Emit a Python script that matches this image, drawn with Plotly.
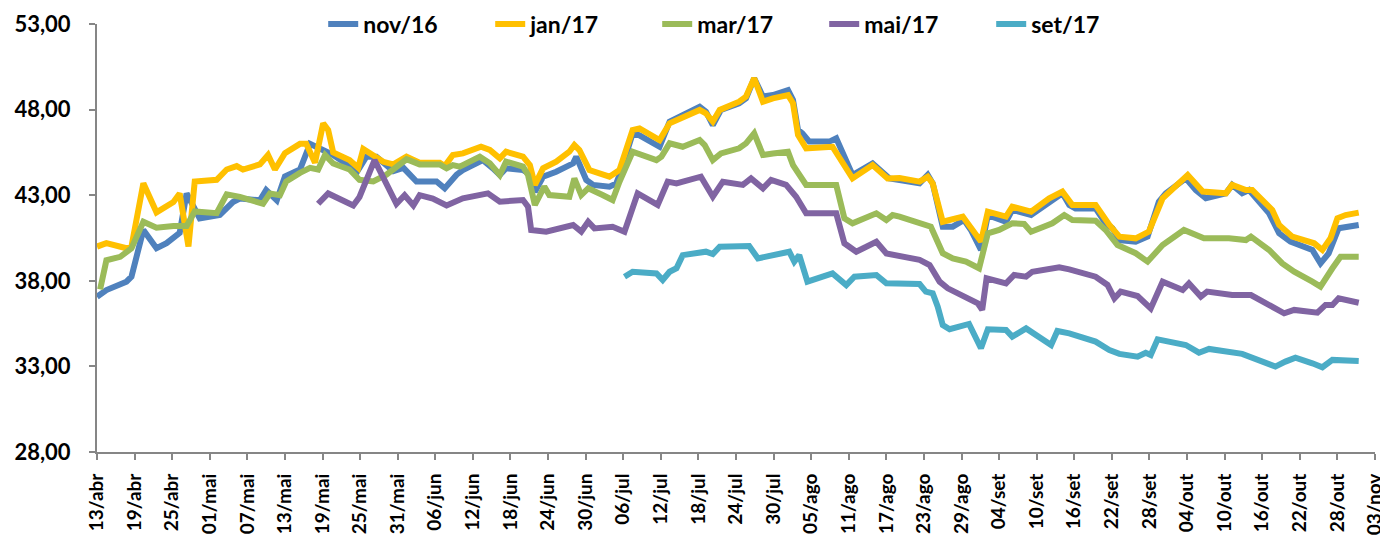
import plotly.graph_objects as go

# x values are days after 13/abr
nov16_day = [0, 1.5, 4.7, 5.5, 7.4, 9.5, 11.1, 13.2, 14.3, 16.4, 19.6, 21.7, 22.8, 26, 27, 28.7, 30, 32.4, 34, 35.3,
             37.7, 40.3, 41.4, 43, 44.6, 47.3, 48.9, 51, 54.2, 55.5, 57.4, 58.4, 61.6, 63.2, 64.3, 65.3, 68, 68.8, 69.9,
             71.2, 73.3, 76, 76.5, 78.1, 79.2, 81.8, 82.9, 83.7, 85.5, 86.6, 89.8, 91.4, 96.2, 97.2, 98.3, 99.6, 102.5,
             103.6, 104.9, 106.3, 107.9, 110.3, 111.1, 111.9, 112.6, 113.7, 116.9, 118, 120.6, 123.8, 126.5, 128.1,
             131.3, 132.6, 133.4, 135, 136.6, 138.4, 139.5, 141.1, 142.2, 145.1, 146.1, 149.1, 152, 154.1, 155.2,
             156.2, 159.4, 161, 162.1, 163.2, 165.8, 167.7, 169.5, 170.6, 173.8, 175.4, 177, 180.2, 181.2, 182.8,
             183.9, 187.1, 188.7, 190.5, 194, 195.3, 196.6, 198.2, 201.4]
nov16_val = [37.07, 37.46, 37.95, 38.24, 40.97, 39.9, 40.2, 40.8, 43.1, 41.65, 41.85, 42.6, 42.8, 42.7, 43.3, 42.7,
             44.1, 44.5, 46.0, 45.8, 45.35, 44.7, 44.3, 45.25, 45.25, 44.4, 44.6, 43.8, 43.8, 43.4, 44.2, 44.47, 45.05,
             44.57, 44.18, 44.57, 44.47, 44.28, 43.2, 44.08, 44.37, 44.86, 45.25, 43.89, 43.6, 43.5, 43.69, 44.47,
             46.61, 46.5, 45.83, 47.3, 48.17, 47.88, 47.1, 47.98, 48.37, 48.66, 49.83, 48.76, 48.85, 49.14, 48.56,
             46.81, 46.61, 46.13, 46.13, 46.32, 44.18, 44.86, 43.98, 43.89, 43.69, 44.18, 43.69, 41.16, 41.16, 41.55,
             40.97, 39.8, 41.84, 41.45, 42.14, 41.84, 42.62, 43.11, 42.43, 42.23, 42.23, 41.36, 41.07, 40.38, 40.29,
             40.58, 42.62, 43.11, 43.99, 43.3, 42.82, 43.11, 43.6, 43.11, 43.3, 41.94, 40.77, 40.29, 39.8, 39.02,
             39.6, 41.07, 41.26]

jan17_day = [0, 1.5, 4.7, 5.5, 7.4, 9.5, 12.2, 13.2, 14.6, 15.6, 19.1, 20.7, 22.3, 23.3, 26, 27.3, 28.4, 30, 32.4,
             33.4, 34.8, 36.1, 36.9, 37.7, 40.3, 41.7, 42.5, 43.5, 45.7, 47.3, 49.4, 51.5, 54.7, 55.5, 56.8, 58.4,
             61.3, 62.7, 64.3, 65.3, 68, 69.1, 69.9, 71.2, 73.3, 75.4, 76.2, 77, 78.6, 81.8, 83.4, 85.5, 86.6, 89.8,
             91.4, 96.2, 97.2, 98.3, 99.4, 102.5, 103.6, 104.9, 106.3, 107.9, 110.3, 111.1, 111.9, 113.2, 117.4,
             120.6, 123.8, 126.2, 128.1, 131.3, 132.6, 133.4, 135, 138.2, 139.2, 141.1, 142.2, 145.1, 146.1, 149.1,
             152, 154.1, 155.7, 159.4, 161.6, 163.2, 165.8, 167.9, 170.1, 174.1, 176.5, 180.2, 181.2, 183.4, 184.4,
             187.6, 188.7, 190.8, 194.3, 195.6, 196.9, 198, 199.3, 201.4]
jan17_val = [40.0, 40.2, 39.9, 40.0, 43.7, 42.0, 42.6, 43.1, 40.0, 43.8, 43.9, 44.5, 44.7, 44.5, 44.8, 45.35, 44.5,
             45.45, 46.0, 46.0, 44.9, 47.2, 46.8, 45.5, 45.05, 44.6, 45.7, 45.45, 44.95, 44.8, 45.25, 44.9, 44.9, 44.7,
             45.35, 45.44, 45.83, 45.64, 45.15, 45.54, 45.25, 44.76, 43.6, 44.57, 44.96, 45.54, 45.93, 45.64, 44.47,
             44.08, 44.47, 46.81, 46.9, 46.22, 47.2, 47.98, 47.78, 47.3, 47.98, 48.46, 48.76, 49.83, 48.46, 48.66,
             48.85, 48.37, 46.52, 45.74, 45.83, 43.98, 44.76, 43.98, 44.0, 43.79, 44.08, 43.69, 41.45, 41.75, 41.26,
             40.29, 42.04, 41.75, 42.33, 42.04, 42.82, 43.21, 42.43, 42.43, 41.26, 40.58, 40.48, 40.87, 42.82, 44.18,
             43.21, 43.11, 43.6, 43.3, 43.3, 42.14, 41.26, 40.58, 40.19, 39.8, 40.48, 41.65, 41.84, 41.98]

mar17_day = [0.5, 1.5, 3.7, 5.5, 7.4, 9.5, 12.2, 14.3, 15.6, 19.1, 20.7, 22.8, 26.5, 27.6, 29.2, 30.2, 32.4, 34, 35.3,
             36.4, 37.7, 40.3, 41.9, 44.1, 46.2, 47.8, 49.4, 51.5, 54.7, 55.8, 56.8, 57.9, 61.1, 62.7, 64.3, 65.3, 68,
             68.8, 69.9, 71.4, 72.2, 75.4, 76.2, 77.3, 78.4, 80.7, 82.3, 83.4, 85.5, 89.3, 90.1, 91.4, 93.5, 96.2, 97,
             98.3, 99.6, 102.5, 103.6, 104.9, 106.3, 107.9, 110.3, 111.1, 112.4, 113.2, 118, 119.3, 120.6, 124.4, 126,
             127, 128.1, 130.7, 133.1, 135, 136.6, 138.7, 140.8, 142.2, 144, 146.1, 148, 149.1, 152.5, 154.4, 155.7,
             159.4, 161, 162.9, 165.8, 167.7, 170.1, 173.5, 176.7, 180.7, 183.4, 184.2, 187.1, 189.2, 191.1, 194,
             195.3, 197.2, 198.5, 201.4]
mar17_val = [37.5, 39.2, 39.4, 39.9, 41.45, 41.1, 41.2, 41.2, 42.05, 41.95, 43.05, 42.9, 42.5, 43.1, 43.0, 43.8, 44.3,
             44.6, 44.5, 45.35, 44.85, 44.5, 43.9, 43.8, 44.2, 44.7, 45.1, 44.8, 44.8, 44.57, 44.76, 44.67, 45.25,
             44.86, 44.18, 44.96, 44.67, 44.18, 42.43, 43.5, 43.01, 42.91, 43.98, 43.01, 43.4, 43.01, 42.72, 43.79,
             45.54, 45.05, 45.25, 46.03, 45.83, 46.22, 45.93, 45.05, 45.44, 45.74, 46.03, 46.61, 45.35, 45.44, 45.54,
             44.76, 44.08, 43.6, 43.6, 41.65, 41.36, 41.94, 41.55, 41.84, 41.75, 41.45, 41.16, 39.61, 39.31, 39.12,
             38.73, 40.77, 40.97, 41.36, 41.32, 40.87, 41.36, 41.84, 41.55, 41.51, 40.97, 40.09, 39.61, 39.12, 40.09,
             40.97, 40.48, 40.48, 40.38, 40.58, 39.8, 39.02, 38.53, 37.95, 37.66, 38.73, 39.41, 39.41]

mai17_day = [35.3, 36.9, 40.9, 41.9, 44.3, 46.2, 47.8, 49.1, 50.5, 51.5, 53.6, 55.8, 58.4, 62.4, 64.3, 68, 68.8, 69.3,
             71.7, 76, 77.3, 78.4, 79.4, 82.3, 84.2, 86.3, 89.5, 91.1, 92.5, 96.4, 98.3, 99.9, 103.1, 104.4, 106.3,
             107.6, 110, 111.6, 113.2, 118, 119.3, 121.2, 124.4, 126, 128.1, 131.3, 132.9, 134.5, 135.8, 139.2, 140.6,
             141.3, 142, 145.1, 146.4, 148.3, 149.3, 153.6, 155.2, 159.4, 161.3, 162.4, 163.4, 166.1, 168.2, 170.1,
             173.3, 174.3, 176.2, 177.2, 181.2, 184.2, 189.5, 191.1, 194.8, 196.1, 197.2, 198.2, 201.4]
mai17_val = [42.5, 43.1, 42.4, 42.9, 45.05, 43.7, 42.5, 43.0, 42.4, 43.0, 42.8, 42.4, 42.82, 43.11, 42.62, 42.72,
             42.33, 40.97, 40.87, 41.26, 40.87, 41.45, 41.06, 41.16, 40.87, 43.11, 42.43, 43.79, 43.69, 44.08, 42.91,
             43.79, 43.6, 43.98, 43.4, 43.89, 43.6, 42.91, 41.94, 41.94, 40.19, 39.7, 40.28, 39.6, 39.45, 39.22, 38.92,
             37.95, 37.56, 36.98, 36.69, 36.3, 38.15, 37.85, 38.34, 38.24, 38.53, 38.79, 38.67, 38.24, 37.76, 36.98,
             37.37, 37.11, 36.39, 37.95, 37.46, 37.85, 37.08, 37.37, 37.17, 37.17, 36.1, 36.3, 36.14, 36.59, 36.59,
             36.98, 36.72]

set17_day = [84.2, 85.5, 89.3, 90.3, 91.4, 92.5, 93.5, 97.2, 98.3, 99.4, 104.1, 105.5, 110.5, 111.3, 112.1, 113.4,
             117.4, 119.6, 120.9, 124.4, 126, 128.1, 131.3, 132.3, 133.4, 134.2, 135, 136.1, 139.2, 141.1, 142.2,
             145.1, 146.1, 148.3, 152.3, 153.3, 155.2, 159.4, 161.6, 163.2, 166.1, 167.4, 168.2, 169.3, 173.8, 175.9,
             177.5, 182.8, 188.1, 189.7, 191.3, 194, 195.6, 197.2, 201.4]
set17_val = [38.24, 38.53, 38.43, 38.05, 38.53, 38.73, 39.5, 39.7, 39.56, 39.99, 40.03, 39.31, 39.7, 39.12, 39.5,
             37.95, 38.43, 37.75, 38.24, 38.34, 37.85, 37.85, 37.81, 37.37, 37.27, 36.49, 35.42, 35.17, 35.48, 34.06,
             35.17, 35.13, 34.74, 35.22, 34.25, 35.07, 34.93, 34.45, 33.96, 33.73, 33.57, 33.8, 33.67, 34.58, 34.25,
             33.8, 34.02, 33.73, 32.99, 33.28, 33.51, 33.18, 32.95, 33.38, 33.32]

tick_days = list(range(0, 205, 6))
tick_labels = ["13/abr", "19/abr", "25/abr", "01/mai", "07/mai", "13/mai", "19/mai", "25/mai", "31/mai",
               "06/jun", "12/jun", "18/jun", "24/jun", "30/jun", "06/jul", "12/jul", "18/jul", "24/jul",
               "30/jul", "05/ago", "11/ago", "17/ago", "23/ago", "29/ago", "04/set", "10/set", "16/set",
               "22/set", "28/set", "04/out", "10/out", "16/out", "22/out", "28/out", "03/nov"]
y_ticks = [28, 33, 38, 43, 48, 53]

series = [
    ("nov/16", nov16_day, nov16_val, "#4F81BD"),
    ("jan/17", jan17_day, jan17_val, "#FFC000"),
    ("mar/17", mar17_day, mar17_val, "#9BBB59"),
    ("mai/17", mai17_day, mai17_val, "#8064A2"),
    ("set/17", set17_day, set17_val, "#4BACC6"),
]

fig = go.Figure()
for name, xs, ys, color in series:
    fig.add_trace(go.Scatter(x=xs, y=ys, name=name, mode="lines",
                             line=dict(color=color, width=6)))

font_family = "Lato, 'Open Sans', sans-serif"
# the page adds an 8px body margin, so the figure is 8px smaller than the window
fig.update_layout(
    width=1380, height=532,
    margin=dict(l=89, r=13, t=16, b=88, autoexpand=False),
    paper_bgcolor="white", plot_bgcolor="white",
    separators=",.",
    font=dict(family=font_family, color="black"),
    showlegend=True,
    legend=dict(orientation="h", x=0.177, xanchor="left", y=1.0, yanchor="middle",
                font=dict(size=23, weight=700, family=font_family), entrywidth=122,
                bgcolor="rgba(0,0,0,0)"),
)
fig.update_xaxes(range=[0, 204], tickvals=tick_days, ticktext=tick_labels, tickangle=-90,
                 showgrid=False, zeroline=False, showline=True, linecolor="#868686", linewidth=2,
                 ticks="outside", ticklen=6, tickcolor="#868686", tickwidth=2, ticklabelstandoff=6,
                 tickfont=dict(size=19, weight=700, family=font_family))
fig.update_yaxes(range=[28, 53], tickvals=y_ticks, tickformat=".2f",
                 showgrid=False, zeroline=False, showline=True, linecolor="#868686", linewidth=2,
                 ticks="outside", ticklen=6, tickcolor="#868686", tickwidth=2, ticklabelstandoff=14,
                 tickfont=dict(size=22, weight=700, family=font_family))

fig.write_html("out.html")
